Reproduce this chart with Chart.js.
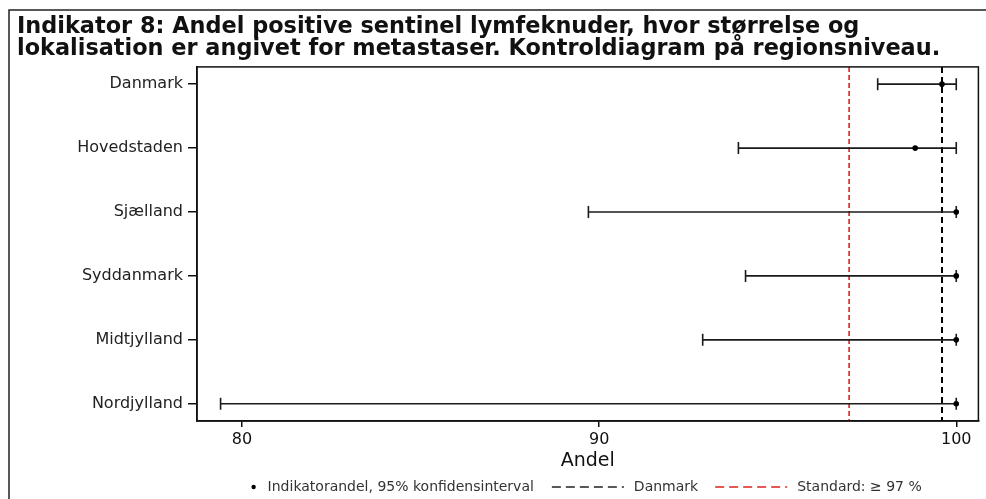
<!DOCTYPE html>
<html>
<head>
<meta charset="utf-8">
<script src="https://cdn.jsdelivr.net/npm/chart.js@4"></script>
<style>
  html, body { margin: 0; padding: 0; background: #fff; }
  #wrap { width: 986px; height: 499px; }
</style>
</head>
<body>
<div id="wrap"><canvas id="chart" width="986" height="499"></canvas></div>
<script>
// regioner og indikatorandele med 95% konfidensinterval
const regions = ['Danmark', 'Hovedstaden', 'Sjælland', 'Syddanmark', 'Midtjylland', 'Nordjylland'];
const andel = [99.6, 98.85, 100, 100, 100, 100];
const lower = [97.8, 93.9, 89.7, 94.1, 92.9, 79.4];
const upper = [100, 100, 100, 100, 100, 100];

const danmarkNiveau = 99.6;
const standard = 97;

const xTicks = [80, 90, 100];
const xMin = 78.74, xMax = 100.62;
const yMin = -0.27, yMax = 5.27;

const titleLines = [
    'Indikator 8: Andel positive sentinel lymfeknuder, hvor størrelse og',
    'lokalisation er angivet for metastaser. Kontroldiagram på regionsniveau.'
];
const legendLabels = ['Indikatorandel, 95% konfidensinterval', 'Danmark', 'Standard: ≥ 97 %'];

const FONT = "'DejaVu Sans', sans-serif";
const RED = '#e0201e';

// konfidensintervaller som vandrette linjer med lodrette endestreger
const ciSets = regions.map((r, i) => ({
    label: r,
    type: 'line',
    data: [{ x: lower[i], y: i }, { x: upper[i], y: i }],
    borderColor: '#1a1a1a',
    borderWidth: 1.6,
    pointStyle: 'line',
    rotation: 90,
    pointRadius: 6,
    pointBorderWidth: 1.6,
    pointBorderColor: '#1a1a1a',
    showLine: true,
    fill: false
}));

const datasets = [
    {
        label: 'Indikatorandel',
        type: 'scatter',
        data: andel.map((v, i) => ({ x: v, y: i })),
        pointStyle: 'circle',
        pointRadius: 2.8,
        backgroundColor: '#000',
        borderColor: '#000',
        borderWidth: 0
    },
    ...ciSets,
    {
        label: 'Danmark',
        type: 'line',
        data: [{ x: danmarkNiveau, y: yMin }, { x: danmarkNiveau, y: yMax }],
        borderColor: '#000',
        borderWidth: 2,
        borderDash: [6, 4],
        pointRadius: 0,
        fill: false
    },
    {
        label: 'Standard',
        type: 'line',
        data: [{ x: standard, y: yMin }, { x: standard, y: yMax }],
        borderColor: RED,
        borderWidth: 1.6,
        borderDash: [5, 3],
        pointRadius: 0,
        fill: false
    }
];

// ramme om figuren og om plotområdet
const framePlugin = {
    id: 'frame',
    beforeDraw(chart) {
        const ctx = chart.ctx;
        ctx.save();
        ctx.strokeStyle = '#222';
        ctx.lineWidth = 1.5;
        ctx.beginPath();
        ctx.moveTo(9, chart.height + 2);
        ctx.lineTo(9, 10);
        ctx.lineTo(chart.width + 2, 10);
        ctx.stroke();
        ctx.restore();
    },
    afterDraw(chart) {
        const { ctx, chartArea: a } = chart;
        ctx.save();
        ctx.strokeStyle = '#111';
        ctx.lineWidth = 1.5;
        ctx.strokeRect(a.left, a.top, a.right - a.left, a.bottom - a.top);
        ctx.restore();
    }
};

// forklaring under x-aksen
const legendPlugin = {
    id: 'bundLegend',
    afterDraw(chart) {
        const { ctx, chartArea: a } = chart;
        ctx.save();
        ctx.font = '14px ' + FONT;
        ctx.textBaseline = 'middle';
        const y = 487;
        const lineW = 72;
        const w0 = ctx.measureText(legendLabels[0]).width;
        const w1 = ctx.measureText(legendLabels[1]).width;
        const w2 = ctx.measureText(legendLabels[2]).width;
        const total = 14 + w0 + 18 + lineW + 10 + w1 + 17 + lineW + 10 + w2;
        let x = (a.left + a.right) / 2 - total / 2;

        ctx.fillStyle = '#000';
        ctx.beginPath();
        ctx.arc(x, y, 2.2, 0, Math.PI * 2);
        ctx.fill();
        x += 14;
        ctx.fillStyle = '#333';
        ctx.fillText(legendLabels[0], x, y);
        x += w0 + 18;

        const drawDash = (color, width) => {
            ctx.strokeStyle = color;
            ctx.lineWidth = width;
            ctx.setLineDash([9, 5]);
            ctx.beginPath();
            ctx.moveTo(x, y);
            ctx.lineTo(x + lineW, y);
            ctx.stroke();
            ctx.setLineDash([]);
        };
        drawDash('#222', 1.6);
        x += lineW + 10;
        ctx.fillText(legendLabels[1], x, y);
        x += w1 + 17;
        drawDash(RED, 1.6);
        x += lineW + 10;
        ctx.fillText(legendLabels[2], x, y);
        ctx.restore();
    }
};

new Chart(document.getElementById('chart'), {
    data: { datasets: datasets },
    options: {
        responsive: false,
        animation: false,
        layout: { padding: { left: 17, right: 7, top: 16, bottom: 27 } },
        plugins: {
            legend: { display: false },
            tooltip: { enabled: false },
            title: {
                display: true,
                text: titleLines,
                align: 'start',
                color: '#111',
                font: { family: FONT, size: 22.4, weight: 'bold', lineHeight: 0.98 },
                padding: { top: 0, bottom: 7 }
            }
        },
        scales: {
            x: {
                type: 'linear',
                min: xMin,
                max: xMax,
                afterBuildTicks: s => { s.ticks = xTicks.map(v => ({ value: v })); },
                afterFit: s => { s.height = 51; },
                grid: { drawOnChartArea: false, drawTicks: true, tickLength: 6, color: '#111', lineWidth: 1.5 },
                border: { display: true, color: '#111', width: 1.5 },
                ticks: { color: '#111', padding: 3, font: { family: FONT, size: 16 } },
                title: {
                    display: true,
                    text: 'Andel',
                    color: '#111',
                    padding: 0,
                    font: { family: FONT, size: 19, lineHeight: 1.1 }
                }
            },
            y: {
                type: 'linear',
                reverse: true,
                min: yMin,
                max: yMax,
                afterBuildTicks: s => { s.ticks = regions.map((r, i) => ({ value: i })); },
                afterFit: s => { s.width = 180; },
                grid: { drawOnChartArea: false, drawTicks: true, tickLength: 9, color: '#111', lineWidth: 1.5 },
                border: { display: true, color: '#111', width: 1.5 },
                ticks: {
                    color: '#222',
                    padding: 5,
                    font: { family: FONT, size: 16 },
                    callback: v => regions[v]
                }
            }
        }
    },
    plugins: [framePlugin, legendPlugin]
});
</script>
</body>
</html>
